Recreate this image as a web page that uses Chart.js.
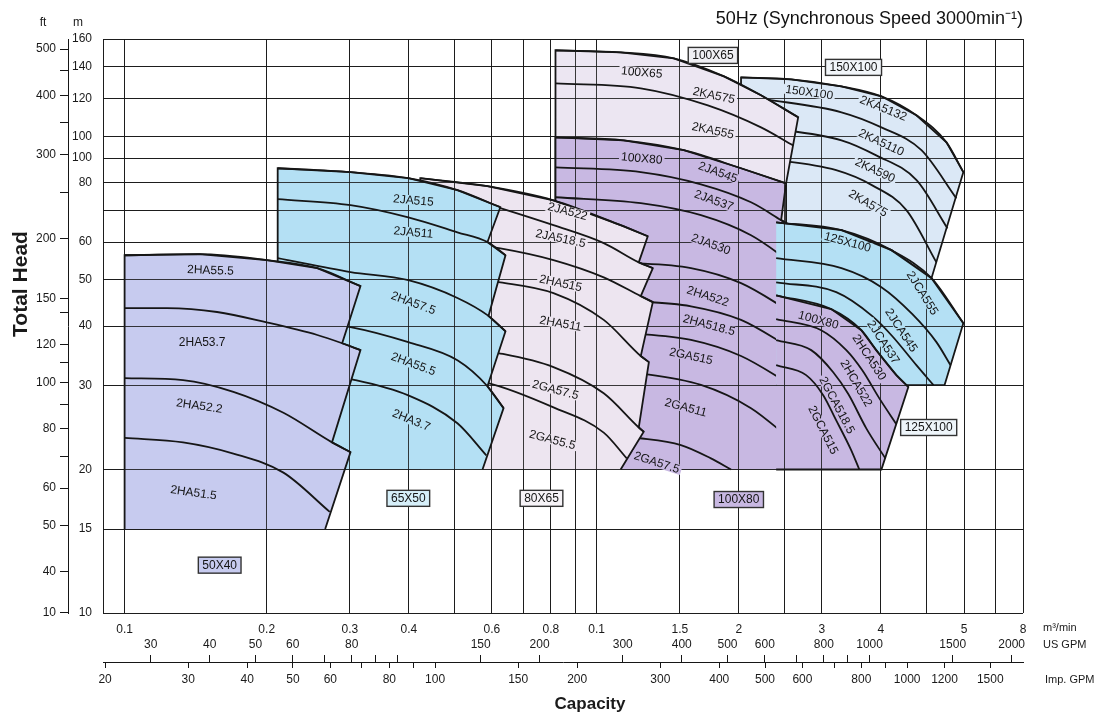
<!DOCTYPE html>
<html>
<head>
<meta charset="utf-8">
<title>Pump selection chart 50Hz</title>
<script src="https://cdn.jsdelivr.net/npm/chart.js@4.4.1/dist/chart.umd.min.js"></script>
<style>
  html, body { margin: 0; padding: 0; background: #fff; }
  canvas { display: block; }
</style>
</head>
<body>
<canvas id="pumpChart" width="1102" height="713" style="width:1102px;height:713px"></canvas>
<script>
// capacity grid in m3/min and the labels printed under it (as printed)
const qGrid   = [0.09, 0.1, 0.2, 0.3, 0.4, 0.5, 0.6, 0.7, 0.8, 0.9, 1, 1.5, 2, 2.5, 3, 4, 5, 6, 7, 8];
const qLabels = ['', '0.1', '0.2', '0.3', '0.4', '', '0.6', '', '0.8', '', '0.1', '1.5', '2', '', '3', '4', '', '5', '', '8'];

// head grid in m
const hGrid   = [10, 15, 20, 30, 40, 50, 60, 70, 80, 90, 100, 120, 140, 160];
const hLabels = ['10', '15', '20', '30', '40', '50', '60', '', '80', '100', '100', '120', '140', '160'];

// head in ft
const ftTicks  = [32.81, 40, 50, 60, 70, 80, 90, 100, 110, 120, 140, 150, 200, 250, 300, 350, 400, 450, 500];
const ftLabels = ['10', '40', '50', '60', '', '80', '', '100', '', '120', '', '150', '200', '', '300', '', '400', '', '500'];

// US GPM and Imp. GPM scales
const usTicks   = [30, 40, 50, 60, 70, 80, 90, 100, 150, 200, 300, 400, 500, 600, 700, 800, 900, 1000, 1500, 2000];
const usLabels  = ['30', '40', '50', '60', '', '80', '', '', '150', '200', '300', '400', '500', '600', '', '800', '', '1000', '1500', '2000'];
const impTicks  = [20, 30, 40, 50, 60, 70, 80, 90, 100, 150, 200, 300, 400, 500, 600, 700, 800, 900, 1000, 1200, 1500];
const impLabels = ['20', '30', '40', '50', '60', '', '80', '', '100', '150', '200', '300', '400', '500', '600', '', '800', '', '1000', '1200', '1500'];

// --- curves, [Q m3/min, H m] ---
// 50X40
const ha55_5a = [[0.1, 56.3], [0.144, 56.6], [0.2, 55.0], [0.256, 52.9], [0.316, 48.5]];
const ha53_7  = [[0.1, 43.6], [0.123, 43.6], [0.157, 42.8], [0.2, 40.7], [0.256, 38.3], [0.289, 36.8], [0.316, 35.6]];
const ha52_2  = [[0.1, 31.1], [0.133, 30.8], [0.17, 29.1], [0.217, 26.3], [0.275, 22.8], [0.301, 21.75]];
const ha51_5  = [[0.1, 23.3], [0.133, 22.8], [0.17, 21.6], [0.217, 19.7], [0.272, 16.3]];
// 65X50
const ja515   = [[0.211, 85.7], [0.301, 84.1], [0.399, 81.7], [0.507, 77.1], [0.625, 71.0]];
const ja511   = [[0.211, 73.8], [0.301, 71.7], [0.399, 67.6], [0.507, 62.9], [0.587, 60.0], [0.641, 56.3]];
const ha57_5  = [[0.211, 55.5], [0.301, 51.9], [0.399, 49.9], [0.507, 45.8], [0.59, 42.0], [0.641, 39.0]];
const ha55_5b = [[0.211, 41.5], [0.301, 39.8], [0.399, 37.0], [0.507, 33.9], [0.587, 29.9], [0.635, 26.9]];
const ha3_7   = [[0.211, 32.6], [0.308, 30.8], [0.399, 28.6], [0.507, 25.0], [0.584, 21.4]];
// 80X65
const ja522   = [[0.423, 81.7], [0.587, 78.6], [0.81, 73.4], [1.124, 65.1], [1.283, 61.7]];
const ja518_5 = [[0.467, 77.1], [0.625, 70.7], [0.81, 65.1], [1.035, 59.7], [1.228, 54.4], [1.315, 52.9]];
const ha515   = [[0.467, 60.5], [0.625, 58.2], [0.81, 55.0], [1.035, 50.6], [1.24, 46.2], [1.315, 44.9]];
const ha511   = [[0.467, 51.1], [0.625, 49.4], [0.81, 46.9], [1.035, 41.2], [1.24, 34.6], [1.29, 33.6]];
const ga57_5a = [[0.467, 36.5], [0.619, 35.1], [0.81, 32.8], [1.035, 28.9], [1.228, 24.5], [1.258, 24.0]];
const ga55_5  = [[0.467, 31.3], [0.587, 30.4], [0.81, 27.0], [1.035, 23.9], [1.158, 21.1]];
// 100X80, left block
const ja545   = [[0.818, 99.5], [1.141, 98.1], [1.53, 93.5], [2.022, 85.7], [2.519, 79.7]];
const ja537   = [[0.818, 86.1], [1.24, 84.1], [1.663, 79.3], [2.123, 72.7], [2.459, 66.7], [2.71, 62.9]];
const ja530   = [[0.818, 74.5], [1.24, 72.4], [1.663, 68.3], [2.123, 62.0], [2.582, 54.4]];
const ha522   = [[1.124, 54.4], [1.584, 52.9], [2.022, 49.2], [2.582, 42.8]];
const ha518_5 = [[1.124, 45.3], [1.584, 44.0], [2.022, 41.2], [2.582, 35.9]];
const ga515   = [[1.124, 38.8], [1.584, 37.4], [2.022, 34.6], [2.582, 30.1]];
const ga511   = [[1.124, 32.3], [1.663, 30.1], [2.123, 26.9], [2.582, 23.1]];
const ga57_5b = [[1.181, 23.4], [1.508, 22.5], [1.746, 21.1], [1.926, 20.0]];
// 100X65
const ka575   = [[0.818, 151.5], [1.124, 150.0], [1.457, 145.7], [1.861, 133.6], [2.229, 121.9], [2.672, 109.6]];
const ka555   = [[0.818, 129.1], [1.24, 126.1], [1.72, 116.1], [2.229, 104.4], [2.607, 95.7]];
// 150X100
const ka5132  = [[2.022, 132.9], [2.582, 131.7], [3.30, 127.3], [4.01, 121.3], [4.756, 110.7], [5.508, 97.1], [5.98, 84.1]];
const ka5110  = [[2.229, 120.0], [3.30, 112.3], [4.01, 104.4], [4.875, 93.5], [5.78, 74.1]];
const ka590   = [[2.229, 104.5], [3.30, 98.1], [3.91, 91.2], [4.76, 80.9], [5.535, 64.1]];
const ka575b  = [[2.229, 90.0], [3.216, 84.9], [3.836, 78.9], [4.53, 70.0], [5.245, 54.4]];
// 125X100
const jca555  = [[2.40, 66.0], [3.30, 63.55], [4.21, 57.7], [5.12, 50.4], [5.98, 40.55]];
const jca545  = [[2.40, 55.5], [3.30, 52.9], [4.01, 48.25], [4.664, 42.35], [5.245, 37.0], [5.618, 33.1]];
const jca537  = [[2.40, 49.4], [3.217, 47.1], [3.836, 41.95], [4.23, 38.07], [4.756, 33.1], [5.17, 30.06]];
// 100X80, right block
const hca530   = [[2.40, 46.4], [3.139, 43.4], [3.636, 39.2], [3.91, 35.6], [4.314, 31.55], [4.573, 29.8]];
const hca522   = [[2.40, 41.35], [2.989, 39.2], [3.379, 35.6], [3.653, 32.3], [3.97, 28.2], [4.314, 24.9]];
const gca518_5 = [[2.40, 37.35], [2.847, 35.6], [3.17, 32.0], [3.412, 28.8], [3.725, 24.4], [4.089, 21.1]];
const gca515   = [[2.40, 33.1], [2.778, 31.55], [3.019, 28.64], [3.201, 25.6], [3.46, 21.96], [3.60, 20.0]];

// model names [text, Q, H, angle]
const tags50x40 = [['2HA55.5', 0.152, 52.4, 2], ['2HA53.7', 0.146, 37.0, 0], ['2HA52.2', 0.144, 27.2, 8], ['2HA51.5', 0.140, 17.9, 8]];
const tags65x50 = [['2JA515', 0.409, 73.4, 5], ['2JA511', 0.409, 62.9, 5], ['2HA57.5', 0.409, 44.7, 20], ['2HA55.5', 0.409, 33.3, 20], ['2HA3.7', 0.405, 25.4, 22]];
const tags80x65 = [['2JA522', 0.868, 69.6, 15], ['2JA518.5', 0.839, 61.1, 12], ['2HA515', 0.839, 49.2, 12], ['2HA511', 0.839, 40.5, 10], ['2GA57.5', 0.818, 29.4, 15], ['2GA55.5', 0.806, 23.1, 15]];
const tags100x80L = [['100X80', 1.246, 89.9, 5], ['2JA545', 1.807, 84.1, 20], ['2JA537', 1.771, 73.4, 20], ['2JA530', 1.746, 59.4, 20], ['2HA522', 1.72, 46.2, 18], ['2HA518.5', 1.73, 40.2, 15], ['2GA515', 1.584, 34.6, 12], ['2GA511', 1.545, 27.0, 15], ['2GA57.5', 1.341, 20.7, 18]];
const tags100x65 = [['100X65', 1.246, 136.2, 5], ['2KA575', 1.771, 121.9, 12], ['2KA555', 1.763, 102.9, 12]];
const tags150x100 = [['150X100', 2.82, 123.7, 8], ['2KA5132', 4.05, 114.5, 22], ['2KA5110', 4.01, 97.1, 25], ['2KA590', 3.89, 84.9, 25], ['2KA575', 3.76, 72.4, 30]];
const tags125x100 = [['125X100', 3.40, 60.0, 15], ['2JCA555', 4.90, 46.9, 58], ['2JCA545', 4.42, 39.2, 57], ['2JCA537', 4.05, 37.0, 57]];
const tags100x80R = [['100X80', 2.95, 41.2, 15], ['2HCA530', 3.78, 34.4, 57], ['2HCA522', 3.55, 30.35, 60], ['2GCA518.5', 3.23, 27.3, 62], ['2GCA515', 3.02, 24.2, 63]];
// framed size names [text, Q, H]
const sizeBoxes = [['50X40', 0.159, 12.6], ['65X50', 0.399, 17.4], ['80X65', 0.764, 17.4], ['100X80', 2.0, 17.3], ['125X100', 5.05, 24.5], ['100X65', 1.763, 147.8], ['150X100', 3.50, 139.5]];

const M_TO_FT = 3.28084, M3_TO_USG = 264.17, M3_TO_IMPG = 219.97;
const ink = '#161616';
const gridInk = 'rgba(25,25,25,0.85)';
const font = '"Liberation Sans", Arial, sans-serif';

const col = {
  '50X40': '#c7cbef', '65X50': '#b4e0f4', '80X65': '#ede5f0', '100X80': '#c8b8e2',
  '100X65': '#ece6f2', '150X100': '#dbe8f6', '125X100': '#b4e0f4'
};
const boxFill = {
  '50X40': '#c7cbef', '65X50': '#d6eff9', '80X65': '#f6f3f7', '100X80': '#c8b8e2',
  '125X100': '#eef5fa', '100X65': '#efeff3', '150X100': '#f1f5f9'
};

// outlines of the shaded areas, built from the curves
const groups = [
  {size: '150X100', outline: [[2.022, 66.0], ...ka5132, ...jca555.slice(0, 4).reverse()], curves: [ka5132, ka5110, ka590, ka575b], tags: tags150x100},
  {size: '100X65', outline: [[0.818, 45.3], ...ka575, [2.519, 79.7], [2.519, 45.3]], curves: [ka575, ka555], tags: tags100x65},
  {size: '100X80', outline: [[0.818, 20], ...ja545, ...ja537.slice(4), [2.71, 20]], curves: [ja545, ja537, ja530, ha522, ha518_5, ga515, ga511, ga57_5b], tags: tags100x80L},
  {size: '125X100', outline: [...jca555, [5.456, 30.06], [2.40, 30.06]], curves: [jca555, jca545, jca537], tags: tags125x100},
  {size: '100X80', outline: [...hca530, [4.01, 20], [2.40, 20]], curves: [hca530, hca522, gca518_5, gca515], tags: tags100x80R},
  {size: '80X65', outline: [[0.423, 20], ...ja522, ...ja518_5.slice(4), ...ha515.slice(4), ...ha511.slice(4), ...ga57_5a.slice(4), [1.124, 20]], curves: [ja522, ja518_5, ha515, ha511, ga57_5a, ga55_5], tags: tags80x65},
  {size: '65X50', outline: [[0.211, 20], ...ja515, ...ja511.slice(4), ...ha57_5.slice(4), ...ha55_5b.slice(4), [0.573, 20]], curves: [ja515, ja511, ha57_5, ha55_5b, ha3_7], tags: tags65x50},
  {size: '50X40', outline: [[0.1, 15], ...ha55_5a, ...ha53_7.slice(5), ...ha52_2.slice(4), [0.266, 15]], curves: [ha55_5a, ha53_7, ha52_2, ha51_5], tags: tags50x40}
];

const toXY = pts => pts.map(([q, h]) => ({x: q, y: h}));
const datasets = [];
groups.forEach(g => {
  datasets.push({
    data: toXY(g.outline), showLine: true, fill: 'shape', backgroundColor: col[g.size],
    borderColor: ink, borderWidth: 1.8, tension: 0, pointRadius: 0
  });
  g.curves.forEach(c => datasets.push({
    data: toXY(c), showLine: true, fill: false, borderColor: ink, borderWidth: 1.8,
    cubicInterpolationMode: 'monotone', pointRadius: 0
  }));
});
// later datasets go on top
datasets.forEach((d, i) => { d.order = -i; });

const fixTicks = list => scale => { scale.ticks = list.map(v => ({value: v})); };

const overlay = {
  id: 'overlay',
  afterDatasetsDraw(chart) {
    const {ctx, chartArea, scales: {x, y}} = chart;
    // grid again, over the shading
    x.drawGrid(chartArea);
    y.drawGrid(chartArea);

    ctx.save();
    ctx.font = '12px ' + font;
    ctx.textAlign = 'center';
    ctx.textBaseline = 'middle';
    groups.forEach(g => g.tags.forEach(([t, q, h, a]) => {
      ctx.save();
      ctx.translate(x.getPixelForValue(q), y.getPixelForValue(h));
      ctx.rotate(a * Math.PI / 180);
      const w = ctx.measureText(t).width;
      ctx.fillStyle = col[g.size];
      ctx.fillRect(-w / 2 - 2, -5, w + 4, 10);
      ctx.fillStyle = '#141414';
      ctx.fillText(t, 0, 0.5);
      ctx.restore();
    }));
    sizeBoxes.forEach(([t, q, h]) => {
      const px = x.getPixelForValue(q), py = y.getPixelForValue(h);
      const w = ctx.measureText(t).width + 8, bh = 16;
      ctx.fillStyle = boxFill[t];
      ctx.fillRect(px - w / 2, py - bh / 2, w, bh);
      ctx.strokeStyle = '#333';
      ctx.lineWidth = 1.4;
      ctx.strokeRect(px - w / 2, py - bh / 2, w, bh);
      ctx.fillStyle = '#141414';
      ctx.fillText(t, px, py + 0.5);
    });
    ctx.restore();
  },
  afterDraw(chart) {
    const ctx = chart.ctx;
    ctx.save();
    ctx.fillStyle = '#1a1a1a';
    ctx.textBaseline = 'middle';
    ctx.textAlign = 'center';
    ctx.font = '12px ' + font;
    ctx.fillText('ft', 43, 23);
    ctx.fillText('m', 78, 23);
    ctx.textAlign = 'left';
    ctx.font = '11px ' + font;
    ctx.fillText('m\u00b3/min', 1043, 628);
    ctx.fillText('US GPM', 1043, 645);
    ctx.fillText('Imp. GPM', 1045, 680);
    ctx.textAlign = 'center';
    ctx.font = 'bold 17px ' + font;
    ctx.fillText('Capacity', 590, 704);
    ctx.translate(21, 284);
    ctx.rotate(-Math.PI / 2);
    ctx.font = 'bold 21px ' + font;
    ctx.fillText('Total Head', 0, 0);
    ctx.restore();
  }
};

Chart.defaults.font.family = font;
Chart.defaults.color = '#1a1a1a';

new Chart(document.getElementById('pumpChart'), {
  type: 'scatter',
  data: {datasets},
  options: {
    responsive: false,
    animation: false,
    events: [],
    layout: {padding: {left: 0, right: 79, top: 0, bottom: 0}},
    plugins: {
      legend: {display: false},
      tooltip: {enabled: false},
      title: {
        display: true, align: 'end', color: '#111',
        text: '50Hz (Synchronous Speed 3000min\u207b\u00b9)',
        font: {size: 18, weight: 'normal'},
        padding: {top: 8, bottom: 9.4}
      }
    },
    scales: {
      x: {
        type: 'logarithmic', position: 'bottom', weight: 1, min: 0.09, max: 8,
        afterBuildTicks: fixTicks(qGrid),
        afterFit: s => { s.height = 49; },
        grid: {color: gridInk, lineWidth: 1, drawTicks: false},
        border: {display: false},
        ticks: {autoSkip: false, maxRotation: 0, padding: 9, font: {size: 12}, callback: (v, i) => qLabels[i]}
      },
      us: {
        // zero-height scale sitting on the shared GPM line, labels mirrored above it
        type: 'logarithmic', position: 'bottom', weight: 2, min: 0.09 * M3_TO_USG, max: 8 * M3_TO_USG,
        afterBuildTicks: fixTicks(usTicks),
        afterFit: s => { s.height = 0; },
        grid: {drawOnChartArea: false, drawTicks: true, tickLength: -7, color: ink},
        border: {display: false},
        ticks: {autoSkip: false, maxRotation: 0, mirror: true, padding: 10, font: {size: 12}, callback: (v, i) => usLabels[i]}
      },
      imp: {
        type: 'logarithmic', position: 'bottom', weight: 3, min: 0.09 * M3_TO_IMPG, max: 8 * M3_TO_IMPG,
        afterBuildTicks: fixTicks(impTicks),
        afterFit: s => { s.height = 51; },
        grid: {drawOnChartArea: false, drawTicks: true, tickLength: 6, color: ink},
        border: {display: true, color: ink, width: 1},
        ticks: {autoSkip: false, maxRotation: 0, padding: 4, font: {size: 12}, callback: (v, i) => impLabels[i]}
      },
      y: {
        type: 'logarithmic', position: 'left', weight: 1, min: 10, max: 160,
        afterBuildTicks: fixTicks(hGrid),
        afterFit: s => { s.width = 35; },
        grid: {color: gridInk, lineWidth: 1, drawTicks: false},
        border: {display: false},
        ticks: {autoSkip: false, padding: 11, crossAlign: 'near', font: {size: 12}, callback: (v, i) => hLabels[i]}
      },
      yFt: {
        type: 'logarithmic', position: 'left', weight: 2, min: 10 * M_TO_FT, max: 160 * M_TO_FT,
        afterBuildTicks: fixTicks(ftTicks),
        afterFit: s => { s.width = 68; },
        grid: {drawOnChartArea: false, drawTicks: true, tickLength: 8, color: ink},
        border: {display: true, color: ink, width: 1},
        ticks: {autoSkip: false, padding: 4, font: {size: 12}, callback: (v, i) => ftLabels[i]}
      }
    }
  },
  plugins: [overlay]
});
</script>
</body>
</html>
